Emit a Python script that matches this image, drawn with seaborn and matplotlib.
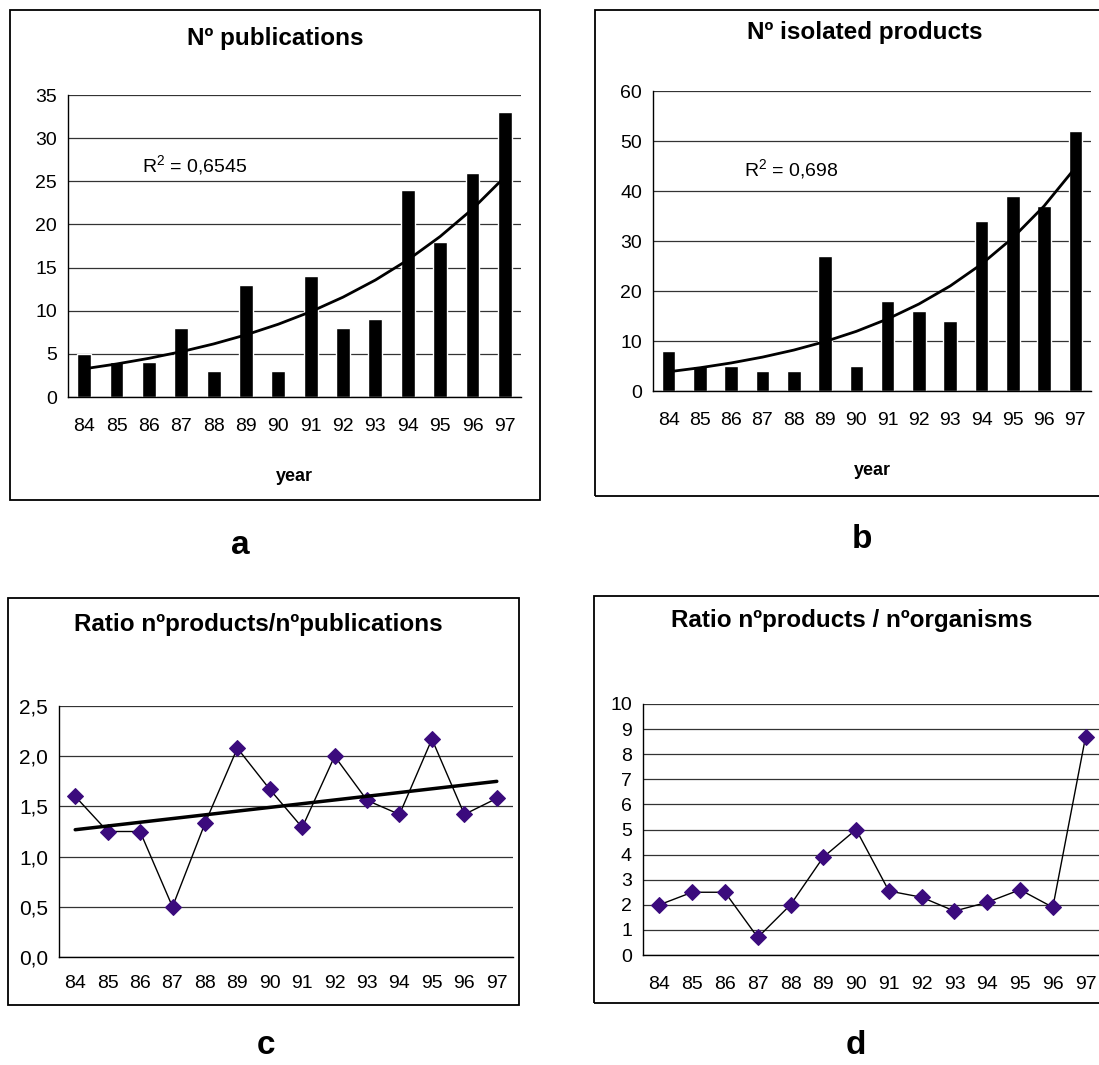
import numpy as np
import pandas as pd
import matplotlib
matplotlib.use('Agg')
import matplotlib.pyplot as plt
from matplotlib.patches import Rectangle
import seaborn as sns

# dati
anni = ['84', '85', '86', '87', '88', '89', '90', '91', '92', '93', '94', '95', '96', '97']
n_pubblicazioni = [5, 4, 4, 8, 3, 13, 3, 14, 8, 9, 24, 18, 26, 33]
n_prodotti = [8, 5, 5, 4, 4, 27, 5, 18, 16, 14, 34, 39, 37, 52]
ratio_pubbl = [1.60, 1.25, 1.25, 0.50, 1.33, 2.08, 1.67, 1.29, 2.00, 1.56, 1.42, 2.17, 1.42, 1.58]
ratio_organismi = [2.0, 2.5, 2.5, 0.7, 2.0, 3.9, 5.0, 2.55, 2.3, 1.75, 2.1, 2.6, 1.9, 8.7]
r2_pubbl = 'R$^2$ = 0,6545'
r2_prodotti = 'R$^2$ = 0,698'

sns.set_style('white')
plt.rcParams['font.family'] = ['Liberation Sans', 'DejaVu Sans']
plt.rcParams['mathtext.fontset'] = 'custom'
plt.rcParams['mathtext.rm'] = 'Liberation Sans'
for k in ['text.color', 'axes.labelcolor', 'xtick.color', 'ytick.color']:
    plt.rcParams[k] = 'black'

W, H = 1099, 1065
fig = plt.figure(figsize=(W / 100, H / 100), dpi=100)
viola = '#3b0b7d'


def assi(l, t, r, b):
    return fig.add_axes([l / W, 1 - b / H, (r - l) / W, (b - t) / H])


def cornice(l, t, r, b):
    fig.add_artist(Rectangle((l / W, 1 - b / H), (r - l) / W, (b - t) / H,
                             transform=fig.transFigure, fill=False,
                             edgecolor='black', lw=1.3))


def titolo(testo, px, py):
    fig.text(px / W, 1 - py / H, testo, fontsize=17.5, fontweight='bold',
             ha='center', va='center')


def stile(ax, ymax, passo, fmt, ysize, xsize, xpad):
    n = len(anni)
    ax.set_xlim(-0.5, n - 0.5)
    ax.set_ylim(0, ymax)
    yt = np.arange(0, ymax + passo / 2, passo)
    ax.set_yticks(yt, [fmt(v) for v in yt])
    ax.set_xticks(range(n), anni)
    ax.set_xticks(np.arange(-0.5, n, 1), minor=True)
    ax.tick_params(axis='x', which='major', length=0, pad=xpad, labelsize=xsize)
    ax.tick_params(axis='x', which='minor', length=6, width=1, color='black', direction='out')
    ax.tick_params(axis='y', length=4, width=1, color='black', direction='out', pad=4, labelsize=ysize)
    ax.grid(axis='y', color='#333333', lw=0.9)
    ax.set_axisbelow(True)
    for s in ['top', 'right']:
        ax.spines[s].set_visible(False)
    for s in ['left', 'bottom']:
        ax.spines[s].set_color('black')
        ax.spines[s].set_linewidth(1)
    ax.set_ylabel('')


def trend_exp(y):
    x = np.arange(1, len(y) + 1)
    b, a = np.polyfit(x, np.log(y), 1)
    return np.exp(a + b * x)


# --- a: pubblicazioni
ax = assi(68, 95, 521, 397)
df = pd.DataFrame({'anno': anni, 'val': n_pubblicazioni})
sns.barplot(data=df, x='anno', y='val', color='black', width=0.43, ax=ax, saturation=1)
ax.plot(range(len(anni)), trend_exp(n_pubblicazioni), color='black', lw=2)
stile(ax, 35, 5, lambda v: f'{v:.0f}', 14, 14, 15)
ax.set_xlabel('year', fontsize=13, fontweight='bold', labelpad=24)
ax.text(1.8, 26.8, r2_pubbl, fontsize=14, va='center')
titolo('Nº publications', 275, 38)
cornice(10, 10, 540, 500)

# --- b: prodotti isolati
ax = assi(653, 91, 1091, 391)
df = pd.DataFrame({'anno': anni, 'val': n_prodotti})
sns.barplot(data=df, x='anno', y='val', color='black', width=0.43, ax=ax, saturation=1)
ax.plot(range(len(anni)), trend_exp(n_prodotti), color='black', lw=2)
stile(ax, 60, 10, lambda v: f'{v:.0f}', 14, 14, 15)
ax.set_xlabel('year', fontsize=13, fontweight='bold', labelpad=24)
ax.text(2.4, 44.2, r2_prodotti, fontsize=14, va='center')
titolo('Nº isolated products', 865, 33)
cornice(595, 10, 1115, 496)

# --- c: rapporto prodotti / pubblicazioni
ax = assi(59, 706, 513, 957)
xs = np.arange(len(anni))
sns.lineplot(x=xs, y=ratio_pubbl, color='black', lw=1, marker='D', markersize=8,
             markerfacecolor=viola, markeredgecolor=viola, ax=ax)
coef = np.polyfit(xs, ratio_pubbl, 1)
ax.plot(xs, np.polyval(coef, xs), color='black', lw=2.5)
stile(ax, 2.5, 0.5, lambda v: f'{v:.1f}'.replace('.', ','), 15, 14, 13)
titolo('Ratio nºproducts/nºpublications', 258, 624)
cornice(8, 598, 519, 1005)

# --- d: rapporto prodotti / organismi
ax = assi(643, 704, 1102, 955)
sns.lineplot(x=xs, y=ratio_organismi, color='black', lw=1, marker='D', markersize=8,
             markerfacecolor=viola, markeredgecolor=viola, ax=ax)
stile(ax, 10, 1, lambda v: f'{v:.0f}', 14, 14, 15)
titolo('Ratio nºproducts / nºorganisms', 852, 621)
cornice(594, 596, 1115, 1003)

# lettere dei pannelli
for lett, px, py in [('a', 240, 545), ('b', 862, 540), ('c', 266, 1046), ('d', 856, 1046)]:
    fig.text(px / W, 1 - py / H, lett, fontsize=24, fontweight='bold', ha='center', va='center',
             family=['Liberation Sans Narrow', 'Liberation Sans'])

fig.savefig('out.png', dpi=100)
